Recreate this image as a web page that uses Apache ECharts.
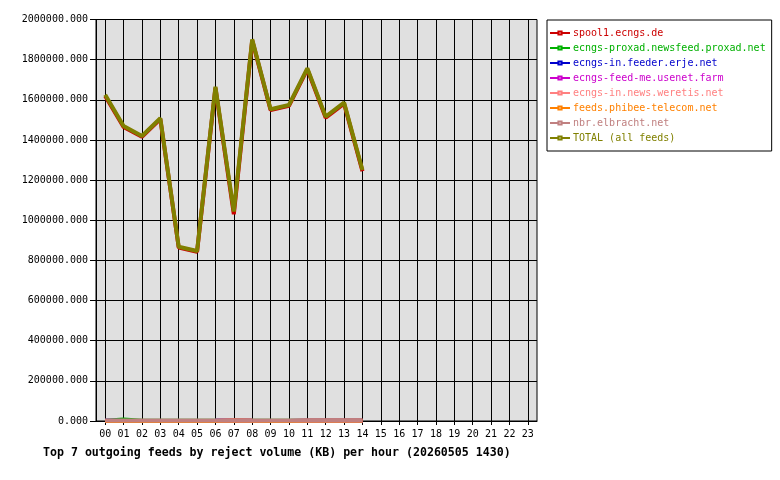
<!DOCTYPE html>
<html>
<head>
<meta charset="utf-8">
<script src="https://cdn.jsdelivr.net/npm/echarts@6/dist/echarts.min.js"></script>
<style>html,body{margin:0;padding:0;background:#fff}#c{width:780px;height:480px}</style>
</head>
<body>
<div id="c"></div>
<script>
var hours = ['00','01','02','03','04','05','06','07','08','09','10','11','12','13','14','15','16','17','18','19','20','21','22','23'];
var yTicks = [0, 200000, 400000, 600000, 800000, 1000000, 1200000, 1400000, 1600000, 1800000, 2000000];
var seriesNames = ['spool1.ecngs.de','ecngs-proxad.newsfeed.proxad.net','ecngs-in.feeder.erje.net','ecngs-feed-me.usenet.farm','ecngs-in.news.weretis.net','feeds.phibee-telecom.net','nbr.elbracht.net','TOTAL (all feeds)'];
var seriesColors = ['#cc0000','#00b000','#0000cc','#cc00cc','#ff8080','#ff8000','#c08080','#808000'];
var spool1  = [1619000,1465000,1416000,1504000,864000,843000,1660000,1030000,1896000,1549000,1570000,1752000,1511000,1581000,1244000];
var proxad  = [1000,8000,1000,1000,1000,1000,1000,1500,1000,1000,1000,1000,1000,1000,1000];
var erje    = [1000,0,500,500,500,500,1000,2000,1000,500,500,1000,1000,1000,1000];
var usenet  = [1000,0,500,500,500,500,1000,2000,1000,500,500,1000,1000,1000,1000];
var weretis = [500,0,500,500,500,500,500,2000,1000,500,500,1000,1000,1000,1000];
var phibee  = [500,0,500,500,500,500,500,2000,1000,500,500,1000,1000,1000,1000];
var elbracht= [3000,3000,3000,3000,3000,3000,3000,3000,3000,3000,3000,3000,3000,3000,3000];
var total   = [1625000,1470000,1420000,1508000,868000,847000,1665000,1044000,1901000,1553000,1574000,1757000,1516000,1586000,1250000];
var titleText = 'Top 7 outgoing feeds by reject volume (KB) per hour (20260505 1430)';

var dataSets = [spool1, proxad, erje, usenet, weretis, phibee, elbracht, total];
var mono = 'DejaVu Sans Mono';
var chart = echarts.init(document.getElementById('c'), null, {renderer: 'canvas'});
var series = seriesNames.map(function (n, i) {
  return {
    name: n,
    type: 'line',
    data: dataSets[i],
    symbol: 'emptyRect',
    symbolSize: 3,
    showSymbol: false,
    animation: false,
    lineStyle: {width: 4, color: seriesColors[i]},
    itemStyle: {color: seriesColors[i], borderColor: seriesColors[i], borderWidth: 1},
    emphasis: {disabled: true}
  };
});
chart.setOption({
  animation: false,
  backgroundColor: '#ffffff',
  title: {
    text: titleText,
    left: 38, top: 442,
    textStyle: {fontFamily: mono, fontWeight: 'bold', fontSize: 11.6, color: '#000'}
  },
  legend: {
    orient: 'vertical',
    left: 547, top: 20,
    backgroundColor: '#fff',
    borderColor: '#000', borderWidth: 1, borderRadius: 0,
    padding: [8, 6, 8, 2],
    itemWidth: 20, itemHeight: 4, itemGap: 5,
    textStyle: {fontFamily: mono, fontSize: 10, lineHeight: 10, padding: [0,0,0,-2]},
    selectedMode: false,
    data: seriesNames.map(function (n, i) {
      return {name: n, textStyle: {color: seriesColors[i]}};
    })
  },
  grid: {
    left: 96, top: 19.5, right: 243, bottom: 59,
    show: true, backgroundColor: '#e0e0e0', borderColor: '#000', borderWidth: 1,
    containLabel: false
  },
  xAxis: {
    type: 'category',
    data: hours,
    boundaryGap: true,
    axisLine: {show: true, lineStyle: {color: '#000', width: 1}},
    axisTick: {show: true, alignWithLabel: true, length: 4, lineStyle: {color: '#000'}},
    splitLine: {show: true, alignWithLabel: true, lineStyle: {color: '#000', width: 1}},
    axisLabel: {fontFamily: mono, fontSize: 10, color: '#000', margin: 8, interval: 0}
  },
  yAxis: {
    type: 'value',
    min: yTicks[0], max: yTicks[yTicks.length - 1], interval: yTicks[1] - yTicks[0],
    axisLine: {show: true, lineStyle: {color: '#000', width: 1}},
    axisTick: {show: true, length: 6, lineStyle: {color: '#000'}},
    splitLine: {show: true, lineStyle: {color: '#000', width: 1}},
    axisLabel: {fontFamily: mono, fontSize: 10, color: '#000', margin: 8,
      formatter: function (v) { return v.toFixed(3); }}
  },
  series: series
});
</script>
</body>
</html>
